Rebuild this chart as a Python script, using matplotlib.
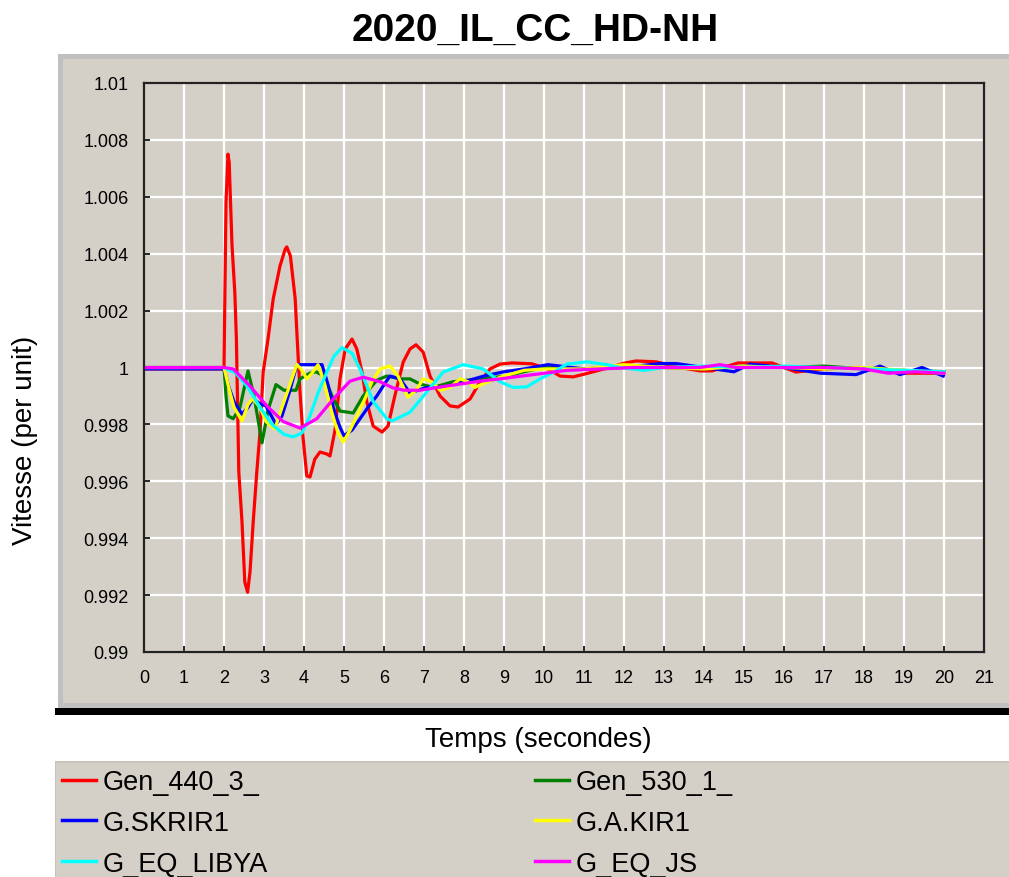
import numpy as np
import matplotlib.pyplot as plt
from matplotlib.patches import Rectangle
from matplotlib.lines import Line2D

plt.rcParams['font.family'] = ['Liberation Sans', 'DejaVu Sans']

# Data (time in s, speed in p.u.)
t_440 = [0, 1.0, 2.0, 2.05, 2.1, 2.13, 2.2, 2.27, 2.31, 2.37, 2.45, 2.52, 2.59, 2.65, 2.73,
         2.82, 2.9, 2.98, 3.1, 3.23, 3.4, 3.53, 3.57, 3.66, 3.78, 3.83, 3.9, 3.98, 4.07,
         4.15, 4.27, 4.4, 4.57, 4.65, 4.78, 4.9, 5.03, 5.2, 5.32, 5.45, 5.57, 5.73, 5.95,
         6.1, 6.27, 6.48, 6.65, 6.8, 6.98, 7.15, 7.4, 7.65, 7.85, 8.15, 8.4, 8.65, 8.9,
         9.2, 9.7, 10.1, 10.4, 10.73, 11.1, 11.5, 12.0, 12.3, 12.8, 13.4, 13.9, 14.2,
         14.85, 15.7, 16.3, 17.0, 17.9, 18.5, 19.0, 19.5, 20.0]
v_440 = [0.99995, 0.99995, 0.99995, 1.0058, 1.0075, 1.0072, 1.0043, 1.00265, 1.0010,
         0.99633, 0.99457, 0.99246, 0.9921, 0.99281, 0.99457, 0.99633, 0.99773, 0.99984,
         1.0010, 1.00241, 1.00357, 1.00416, 1.00424, 1.00392, 1.00241, 1.0010, 0.99914,
         0.99749, 0.99619, 0.99615, 0.99678, 0.99703, 0.99696, 0.99689, 0.99784, 0.9996,
         1.00065, 1.0010, 1.00065, 0.99984, 0.99879, 0.99794, 0.99773, 0.99794, 0.9990,
         1.00019, 1.00065, 1.0008, 1.00054, 0.9997, 0.9990, 0.99865, 0.99861, 0.99889,
         0.99949, 0.99995, 1.00012, 1.00016, 1.00013, 0.99995, 0.9997, 0.99967, 0.9998,
         0.99995, 1.00015, 1.00023, 1.0002, 1.0, 0.99988, 0.99988, 1.00016, 1.00016,
         0.99984, 0.99995, 1.0, 0.9999, 0.9998, 0.9998, 0.9998]

t_530 = [0, 2.0, 2.05, 2.1, 2.23, 2.4, 2.6, 2.75, 2.95, 3.1, 3.3, 3.5, 3.8, 3.9, 4.15,
         4.3, 4.5, 4.7, 4.9, 5.23, 5.48, 5.82, 6.07, 6.4, 6.65, 6.9, 7.23, 7.73, 8.4,
         9.07, 9.5, 10, 11, 12, 13, 14, 15, 16, 17, 18, 19, 20]
v_530 = [1.0, 1.0, 0.9990, 0.9983, 0.9982, 0.9986, 0.99988, 0.9990, 0.99735, 0.9985,
         0.9994, 0.9992, 0.9992, 0.9996, 0.9998, 0.99985, 0.9997, 0.9990, 0.99847,
         0.9984, 0.9990, 0.99955, 0.9997, 0.9996, 0.9996, 0.99942, 0.9993, 0.9995,
         0.9996, 0.9997, 0.99985, 1.0, 0.99995, 1.00005, 1.0, 0.99995, 1.00005, 1.0,
         1.00005, 0.99995, 0.9999, 0.99985]

t_skrir = [0, 1.0, 2.0, 2.1, 2.25, 2.45, 2.6, 2.73, 2.9, 3.05, 3.3, 3.45, 3.65, 3.82,
           3.95, 4.2, 4.45, 4.6, 4.75, 4.9, 5.0, 5.2, 5.4, 5.6, 5.82, 6.05, 6.15, 6.4,
           6.65, 6.85, 7.07, 7.5, 8.0, 8.5, 9.0, 9.5, 10.1, 11.0, 12.0, 12.9, 13.3, 14.0,
           14.75, 15.15, 16.0, 16.9, 17.8, 18.4, 18.9, 19.45, 19.98]
v_skrir = [0.99995, 0.99995, 0.99995, 0.9994, 0.9988, 0.99836, 0.9986, 0.9989, 0.99872,
           0.99865, 0.9980, 0.9983, 0.9992, 1.0001, 1.0001, 1.0001, 1.0001, 0.9994,
           0.9985, 0.9979, 0.9976, 0.9978, 0.9982, 0.9986, 0.9990, 0.9995, 0.9997,
           0.9996, 0.9991, 0.9992, 0.9993, 0.9993, 0.9995, 0.9997, 0.99985, 0.99995,
           1.0001, 0.99995, 1.0, 1.00014, 1.00014, 1.0, 0.99985, 1.00012, 1.0, 0.9998,
           0.99975, 1.00005, 0.99975, 1.0, 0.9997]

t_akir = [0, 2.0, 2.1, 2.25, 2.45, 2.6, 2.72, 2.9, 3.05, 3.27, 3.45, 3.6, 3.82, 3.95,
          4.07, 4.2, 4.35, 4.5, 4.7, 4.85, 4.98, 5.15, 5.5, 5.7, 5.9, 6.15, 6.35, 6.6,
          6.8, 6.98, 7.2, 7.4, 7.65, 7.9, 8.1, 8.27, 8.6, 9.0, 9.5, 10, 11, 12, 13, 14,
          15, 16, 17, 18, 19, 20]
v_akir = [1.0, 1.0, 0.9994, 0.9986, 0.99812, 0.9987, 0.9989, 0.9986, 0.9981, 0.99784,
          0.9986, 0.9992, 1.00011, 0.9999, 0.9996, 0.9998, 1.0001, 0.9995, 0.9984,
          0.9977, 0.99738, 0.9978, 0.99882, 0.9995, 0.99995, 1.00005, 0.9997, 0.99896,
          0.9992, 0.9996, 0.9995, 0.9992, 0.9993, 0.9996, 0.9995, 0.9993, 0.9995, 0.9997,
          0.9999, 0.99995, 0.99995, 1.0001, 1.0, 0.99995, 1.00005, 1.0, 0.99995, 1.0,
          0.9999, 0.9998]

t_libya = [0, 2.0, 2.3, 2.6, 2.9, 3.2, 3.5, 3.73, 3.95, 4.15, 4.35, 4.57, 4.75, 4.95,
           5.2, 5.4, 5.73, 6.07, 6.2, 6.65, 7.07, 7.48, 7.98, 8.48, 8.9, 9.23, 9.57,
           9.9, 10.25, 10.57, 11.07, 11.57, 11.9, 12.5, 13, 14, 15, 16, 17, 18, 19, 20]
v_libya = [1.0, 1.0, 0.9998, 0.9993, 0.9986, 0.9980, 0.99765, 0.99756, 0.9977, 0.9983,
           0.9991, 0.99984, 1.0004, 1.0007, 1.0005, 0.99995, 0.9988, 0.9982, 0.99812,
           0.99843, 0.99914, 0.99984, 1.0001, 0.99995, 0.9995, 0.9993, 0.99932, 0.9996,
           0.99984, 1.00012, 1.0002, 1.0001, 1.0, 0.9999, 1.0, 1.00005, 1.0, 1.00005,
           1.0, 0.99995, 0.9999, 0.99985]

t_js = [0, 2.0, 2.23, 2.65, 3.07, 3.48, 3.9, 4.32, 4.73, 5.15, 5.48, 5.9, 6.23, 6.5,
        6.9, 7.57, 8.4, 8.9, 9.23, 10.57, 12.25, 13.9, 14.4, 14.8, 16.0, 17.0, 18.0,
        18.6, 19.3, 20.0]
v_js = [1.0, 1.0, 0.99995, 0.99935, 0.99865, 0.9981, 0.99787, 0.9982, 0.99889, 0.99952,
        0.99966, 0.9995, 0.99928, 0.9992, 0.9992, 0.99935, 0.99952, 0.9996, 0.99966,
        0.9999, 1.0, 1.0, 1.0001, 1.0, 1.0, 1.0, 0.99995, 0.9998, 0.99985, 0.9998]

names = ['Gen_440_3_', 'Gen_530_1_', 'G.SKRIR1', 'G.A.KIR1', 'G_EQ_LIBYA', 'G_EQ_JS']
colors = ['#ff0000', '#008000', '#0000ff', '#ffff00', '#00ffff', '#ff00ff']
series = [(t_440, v_440), (t_530, v_530), (t_skrir, v_skrir),
          (t_akir, v_akir), (t_libya, v_libya), (t_js, v_js)]

x_ticks = list(range(0, 22))
y_ticks = [0.99, 0.992, 0.994, 0.996, 0.998, 1.0, 1.002, 1.004, 1.006, 1.008, 1.01]
y_labels = ['0.99', '0.992', '0.994', '0.996', '0.998', '1', '1.002', '1.004',
            '1.006', '1.008', '1.01']

W, H = 1009, 878
BG = '#d4d0c8'

fig = plt.figure(figsize=(W / 100, H / 100), dpi=100)
fig.patch.set_facecolor('white')


def frac_rect(x0, y0, x1, y1, **kw):
    # pixel box (top-left origin) -> figure fraction rectangle, kept behind the axes
    r = Rectangle((x0 / W, 1 - y1 / H), (x1 - x0) / W, (y1 - y0) / H,
                  transform=fig.transFigure, zorder=-10, **kw)
    fig.patches.append(r)


# panel around the plot
frac_rect(58, 55, W, 709, facecolor='#c0c0c0', edgecolor='none')
frac_rect(63, 60, W, 704, facecolor=BG, edgecolor='none')
frac_rect(55, 709, W, 716, facecolor='black', edgecolor='none')
# legend box
frac_rect(55, 762, W, H, facecolor='#c8c4bc', edgecolor='none')
frac_rect(56, 764, W, H, facecolor=BG, edgecolor='none')

ax = fig.add_axes([144 / W, 1 - 653 / H, 840 / W, 569 / H])
ax.set_facecolor(BG)

lines = []
for (t, v), name, c in zip(series, names, colors):
    ln, = ax.plot(t, v, color=c, lw=2.3, label=name, solid_joinstyle='round')
    lines.append(ln)

ax.set_xlim(0, 21)
ax.set_ylim(0.99, 1.01)
ax.set_xticks(x_ticks)
ax.set_yticks(y_ticks)
ax.set_yticklabels(y_labels)
ax.grid(True, color='white', lw=1.6)
ax.set_axisbelow(True)
ax.tick_params(direction='in', length=4, width=1.2, colors='black',
               labelsize=13, top=False, right=False)
ax.tick_params(axis='y', pad=11)
ax.tick_params(axis='x', pad=12)
for s in ax.spines.values():
    s.set_color('#222222')
    s.set_linewidth(1.6)

fig.text(535 / W, 1 - 31 / H, '2020_IL_CC_HD-NH', ha='center', va='center',
         fontsize=28, fontweight='bold')
fig.text(538 / W, 1 - 740 / H, 'Temps (secondes)', ha='center', va='center',
         fontsize=20)
fig.text(25 / W, 1 - 440 / H, 'Vitesse (per unit)', ha='center', va='center',
         fontsize=20, rotation=90)

# legend, two columns filled row by row
col1 = [lines[0], lines[2], lines[4]]
col2 = [lines[1], lines[3], lines[5]]
for handles, x0 in ((col1, 62), (col2, 535)):
    leg = fig.legend(handles=handles, loc='upper left',
                     bbox_to_anchor=(x0 / W, 1 - 770 / H), frameon=False,
                     fontsize=19.5, handlelength=1.25, handletextpad=0.25,
                     labelspacing=0.55, borderpad=0, borderaxespad=0)
    for lh in leg.get_lines():
        lh.set_linewidth(2.5)

fig.savefig('out.png', dpi=100)
